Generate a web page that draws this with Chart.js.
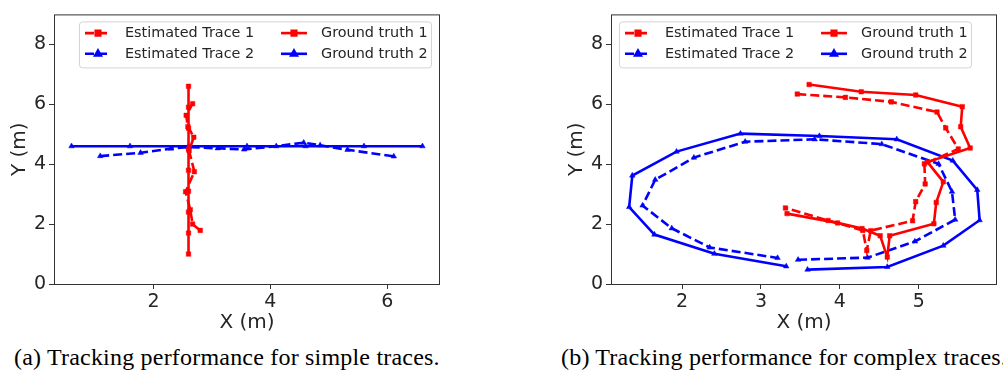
<!DOCTYPE html>
<html>
<head>
<meta charset="utf-8">
<script src="https://cdn.jsdelivr.net/npm/chart.js@4.4.0/dist/chart.umd.min.js"></script>
<style>
  body { margin: 0; background: #fff; width: 1003px; height: 372px; overflow: hidden; position: relative; }
  .box { position: absolute; top: 0; height: 340px; }
  .cap { position: absolute; top: 345px; line-height: 24px; font-family: "Liberation Serif", "DejaVu Serif", serif; font-size: 24px; letter-spacing: 0.2px; white-space: nowrap; color: #000; }
</style>
</head>
<body>
<div class="box" style="left:0;width:500px"><canvas id="simpleChart"></canvas></div>
<div class="box" style="left:500px;width:503px"><canvas id="complexChart"></canvas></div>
<div class="cap" style="left:14px">(a) Tracking performance for simple traces.</div>
<div class="cap" style="left:561px">(b) Tracking performance for complex traces.</div>

<script>
// --- datos ---
const LABELS = ["Estimated Trace 1", "Estimated Trace 2", "Ground truth 1", "Ground truth 2"];

// (a) trazas simples
const simpleEst1X = [2.80, 2.67, 2.63, 2.55, 2.70, 2.61, 2.69, 2.59, 2.56, 2.67];
const simpleEst1Y = [1.79, 2.00, 2.48, 3.08, 3.75, 4.45, 4.90, 5.25, 5.63, 6.02];
const simpleGt1X = [2.6, 2.6, 2.6, 2.6, 2.6, 2.6, 2.6, 2.6, 2.6];
const simpleGt1Y = [1.0, 1.7, 2.4, 3.1, 3.8, 4.5, 5.2, 5.9, 6.6];
const simpleEst2X = [1.09, 1.78, 2.30, 2.60, 3.10, 3.55, 4.10, 4.57, 4.85, 5.32, 6.11];
const simpleEst2Y = [4.27, 4.38, 4.52, 4.57, 4.53, 4.49, 4.60, 4.72, 4.63, 4.48, 4.26];
const simpleGt2X = [0.6, 1.6, 2.6, 3.6, 4.6, 5.6, 6.6];
const simpleGt2Y = [4.6, 4.6, 4.6, 4.6, 4.6, 4.6, 4.6];

// (b) trazas complejas
const complexEst1X = [3.46, 4.07, 4.65, 5.23, 5.34, 5.50, 5.07, 5.08, 4.96, 4.92, 4.39, 4.34, 4.29, 3.85, 3.31];
const complexEst1Y = [6.34, 6.23, 6.08, 5.74, 5.21, 4.51, 4.01, 3.34, 2.75, 2.11, 1.78, 1.12, 1.79, 2.12, 2.54];
const complexGt1X = [3.61, 4.27, 4.96, 5.55, 5.53, 5.65, 5.11, 5.31, 5.22, 5.19, 4.63, 4.60, 4.51, 4.28, 3.97, 3.33];
const complexGt1Y = [6.66, 6.42, 6.31, 5.92, 5.25, 4.54, 4.07, 3.41, 2.72, 2.01, 1.61, 0.90, 1.61, 1.85, 2.04, 2.35];
const complexEst2X = [3.47, 4.35, 4.95, 5.46, 5.42, 5.25, 4.53, 3.68, 2.80, 2.15, 1.66, 1.50, 1.87, 2.35, 3.21];
const complexEst2Y = [0.81, 0.88, 1.42, 2.15, 3.08, 4.01, 4.67, 4.83, 4.75, 4.22, 3.48, 2.62, 1.86, 1.22, 0.87];
const complexGt2X = [3.59, 4.60, 5.31, 5.77, 5.74, 5.43, 4.72, 3.74, 2.74, 1.93, 1.37, 1.33, 1.65, 2.41, 3.32];
const complexGt2Y = [0.48, 0.57, 1.28, 2.13, 3.14, 4.12, 4.83, 4.94, 5.02, 4.42, 3.62, 2.57, 1.65, 1.01, 0.59];

const simpleXTicks = [2, 4, 6];
const complexXTicks = [2, 3, 4, 5];
const yTicks = [0, 2, 4, 6, 8];
// ----------------------------------

const TXT = '#262626';
const FRAME = '#333333';
const DASH = [9, 4];

function pts(xs, ys) { return xs.map((x, i) => ({ x: x, y: ys[i] })); }

// estilo de cada serie (mismo orden que LABELS)
const STYLES = [
  { color: '#ff0000', dash: DASH, style: 'rect', r: 3.2, order: 2 },
  { color: '#0000ff', dash: DASH, style: 'triangle', r: 3.2, order: 4 },
  { color: '#ff0000', dash: [], style: 'rect', r: 3.2, order: 1 },
  { color: '#0000ff', dash: [], style: 'triangle', r: 3.2, order: 3 }
];

function makeDataset(i, xs, ys) {
  const s = STYLES[i];
  return {
    label: LABELS[i],
    data: pts(xs, ys),
    showLine: true,
    borderColor: s.color,
    backgroundColor: s.color,
    borderWidth: 2.6,
    borderDash: s.dash,
    pointStyle: s.style,
    pointRadius: s.r,
    pointBorderWidth: 0.5,
    pointBackgroundColor: s.color,
    pointBorderColor: s.color,
    order: s.order,
    tension: 0
  };
}

// marco alrededor del área del gráfico
const framePlugin = {
  id: 'frame',
  afterDatasetsDraw(chart) {
    const { ctx, chartArea: a } = chart;
    ctx.save();
    ctx.strokeStyle = FRAME;
    ctx.lineWidth = 1;
    ctx.strokeRect(a.left + 0.5, a.top + 0.5, a.right - a.left - 1, a.bottom - a.top);
    ctx.restore();
  }
};

// leyenda en dos columnas, estilo matplotlib
const legendPlugin = {
  id: 'boxLegend',
  afterDraw(chart, args, opts) {
    const { ctx, chartArea: a } = chart;
    const bx = a.left + opts.dx, by = a.top + 7, bw = 352, bh = 46;
    ctx.save();
    ctx.beginPath();
    ctx.roundRect(bx + 0.5, by + 0.5, bw, bh, 3);
    ctx.fillStyle = 'rgba(255,255,255,0.85)';
    ctx.fill();
    ctx.strokeStyle = '#d4d4d4';
    ctx.lineWidth = 1;
    ctx.stroke();

    const cols = [6, 202], texts = [46, 242], rows = [11.7, 32.4];
    // columna 1: estimadas, columna 2: ground truth
    const slots = [[0, 0], [0, 1], [1, 0], [1, 1]];
    ctx.font = '14.4px "DejaVu Sans"';
    ctx.textBaseline = 'middle';
    slots.forEach((sl, i) => {
      const s = STYLES[i];
      const x0 = bx + cols[sl[0]], y = by + rows[sl[1]];
      ctx.strokeStyle = s.color;
      ctx.lineWidth = 2.6;
      ctx.setLineDash(s.dash);
      ctx.beginPath();
      ctx.moveTo(x0, y);
      ctx.lineTo(x0 + 26, y);
      ctx.stroke();
      ctx.setLineDash([]);
      ctx.fillStyle = s.color;
      Chart.helpers.drawPoint(ctx, { pointStyle: s.style, radius: s.r, borderWidth: 0.5 }, x0 + 13, y);
      ctx.fillStyle = TXT;
      ctx.fillText(LABELS[i], bx + texts[sl[0]], y + 0.5);
    });
    ctx.restore();
  }
};

function makeChart(id, datasets, xMin, xMax, xTicks, pad, legendDx) {
  return new Chart(document.getElementById(id), {
    type: 'scatter',
    data: { datasets: datasets },
    plugins: [framePlugin, legendPlugin],
    options: {
      responsive: true,
      maintainAspectRatio: false,
      animation: false,
      layout: { padding: pad },
      plugins: {
        legend: { display: false },
        tooltip: { enabled: false },
        boxLegend: { dx: legendDx }
      },
      scales: {
        x: {
          type: 'linear',
          min: xMin, max: xMax,
          afterBuildTicks: s => { s.ticks = xTicks.map(v => ({ value: v })); },
          afterFit: s => { s.height = 56; },
          grid: { drawOnChartArea: false, tickLength: 5, color: FRAME },
          border: { display: false },
          ticks: { color: TXT, font: { family: 'DejaVu Sans', size: 19 }, padding: 2 },
          title: { display: true, text: 'X (m)', color: TXT, font: { family: 'DejaVu Sans', size: 20 }, padding: { top: 0, bottom: 5 } }
        },
        y: {
          type: 'linear',
          min: 0, max: 9,
          afterBuildTicks: s => { s.ticks = yTicks.map(v => ({ value: v })); },
          afterFit: s => { s.width = 54; },
          grid: { drawOnChartArea: false, tickLength: 5, color: FRAME },
          border: { display: false },
          ticks: { color: TXT, font: { family: 'DejaVu Sans', size: 19 }, padding: 3 },
          title: { display: true, text: 'Y (m)', color: TXT, font: { family: 'DejaVu Sans', size: 20 }, padding: { top: 8, bottom: 0 } }
        }
      }
    }
  });
}

makeChart('simpleChart', [
  makeDataset(0, simpleEst1X, simpleEst1Y),
  makeDataset(1, simpleEst2X, simpleEst2Y),
  makeDataset(2, simpleGt1X, simpleGt1Y),
  makeDataset(3, simpleGt2X, simpleGt2Y)
], 0.3, 6.9, simpleXTicks, { left: 0, right: 60, top: 10, bottom: 0 }, 25);

makeChart('complexChart', [
  makeDataset(0, complexEst1X, complexEst1Y),
  makeDataset(1, complexEst2X, complexEst2Y),
  makeDataset(2, complexGt1X, complexGt1Y),
  makeDataset(3, complexGt2X, complexGt2Y)
], 1.1, 5.99, complexXTicks, { left: 57, right: 6, top: 10, bottom: 0 }, 8);
</script>
</body>
</html>
